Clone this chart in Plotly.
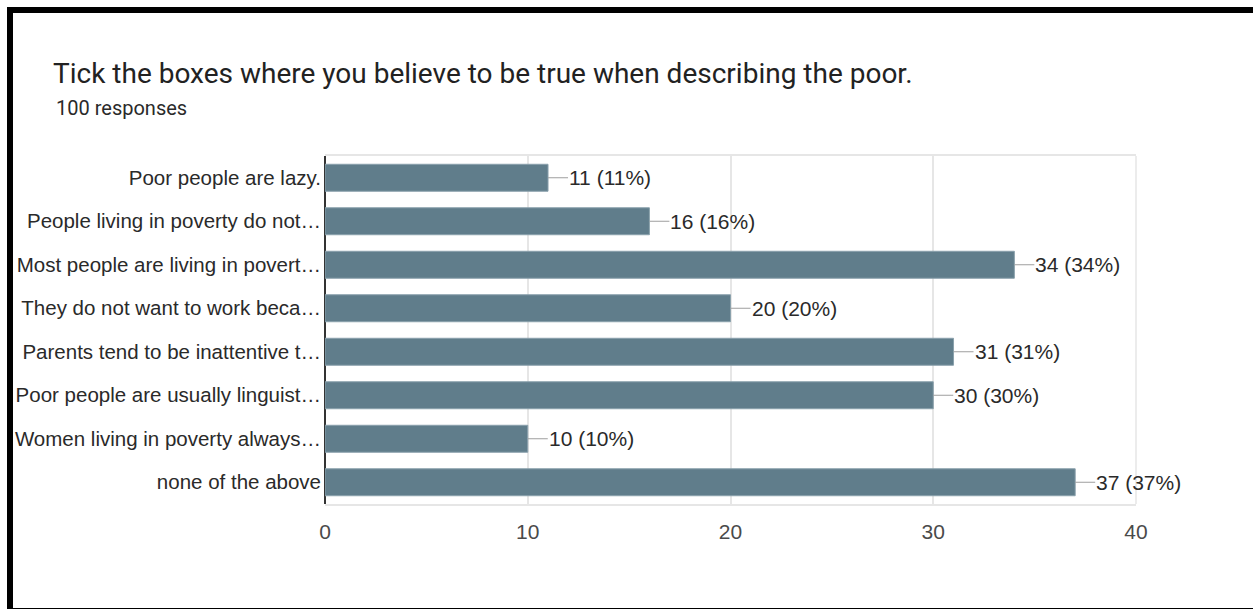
import plotly.graph_objects as go

# Survey answers (checkbox question, 100 respondents)
categories = [
    "Poor people are lazy.",
    "People living in poverty do not…",
    "Most people are living in povert…",
    "They do not want to work beca…",
    "Parents tend to be inattentive t…",
    "Poor people are usually linguist…",
    "Women living in poverty always…",
    "none of the above",
]
counts = [11, 16, 34, 20, 31, 30, 10, 37]
total_responses = 100
x_ticks = [0, 10, 20, 30, 40]

W, H = 1253, 609
PL, PR, PT, PB = 325, 1136, 156, 504  # plot area in pixels


def px(x):
    return (x - PL) / (PR - PL)


def py(y):
    return (PB - y) / (PB - PT)


BAR = "#607d8b"
LABEL_FONT = "Liberation Sans, Arial, sans-serif"

fig = go.Figure()
fig.add_trace(go.Bar(
    x=counts,
    y=categories,
    orientation="h",
    marker=dict(color=BAR, line=dict(color="#8aa1ac", width=1)),
    width=0.62,
    hoverinfo="x+y",
))

# value labels with a short leader line
for c, n in zip(categories, counts):
    fig.add_annotation(
        x=n, y=c, xref="x", yref="y",
        text=f"{n} ({round(100 * n / total_responses)}%)",
        showarrow=True, arrowhead=0, arrowwidth=1.2, arrowcolor="#9e9e9e",
        ax=20, ay=0, standoff=0, startstandoff=0,
        xanchor="left", yanchor="middle",
        font=dict(family=LABEL_FONT, size=21, color="#2a2a2a"),
        borderpad=0,
    )

fig.add_annotation(
    x=px(54), y=py(108), xref="paper", yref="paper",
    text="100 responses", showarrow=False,
    xanchor="left", yanchor="middle",
    font=dict(family="Roboto, Arial, sans-serif", size=20, color="#2a2a2a"),
)

# outer black frame
fig.add_shape(
    type="rect", xref="paper", yref="paper",
    x0=px(10), x1=px(1270), y0=py(10), y1=py(611),
    line=dict(color="#000000", width=6), fillcolor="rgba(0,0,0,0)",
    layer="above",
)
# right edge of the plot box
fig.add_shape(
    type="line", xref="paper", yref="paper",
    x0=1, x1=1, y0=0, y1=1, line=dict(color="#e6e6e6", width=1.5),
)

fig.update_layout(
    width=W, height=H,
    margin=dict(l=PL, r=W - PR, t=PT, b=H - PB),
    paper_bgcolor="white", plot_bgcolor="white",
    showlegend=False,
    title=dict(
        text="Tick the boxes where you believe to be true when describing the poor.",
        xref="container", yref="container",
        x=53 / W, y=1 - 73 / H, xanchor="left", yanchor="middle",
        font=dict(family="Roboto, Arial, sans-serif", size=28, color="#222222"),
    ),
    bargap=0.38,
)
fig.update_xaxes(
    range=[0, 40], tickvals=x_ticks, ticktext=[str(t) for t in x_ticks],
    showgrid=True, gridcolor="#e6e6e6", gridwidth=1.5,
    showline=True, mirror=True, linecolor="#e6e6e6", linewidth=1.5,
    zeroline=True, zerolinecolor="#333333", zerolinewidth=1.5,
    ticks="", ticklabelstandoff=8,
    tickfont=dict(family=LABEL_FONT, size=21, color="#4a4a4a"),
    fixedrange=True,
)
fig.update_yaxes(
    autorange="reversed", showgrid=False, showline=False, zeroline=False,
    ticks="", ticklabelstandoff=3,
    tickfont=dict(family=LABEL_FONT, size=20.5, color="#2a2a2a"),
    fixedrange=True,
)

fig.write_html("out.html")
